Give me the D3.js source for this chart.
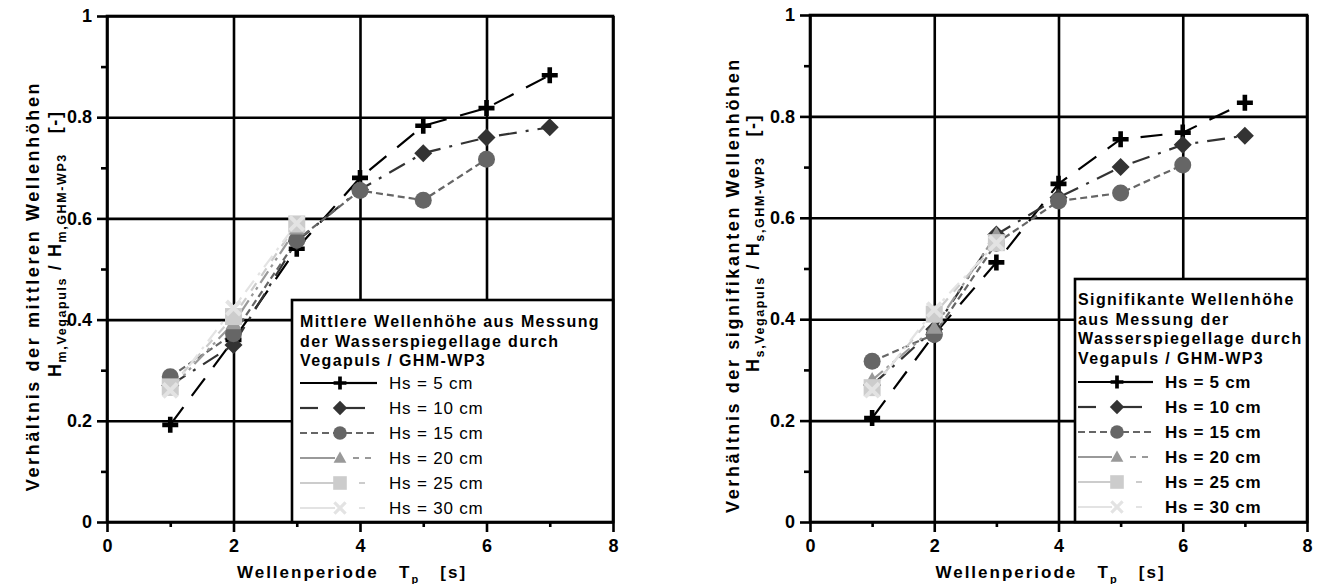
<!DOCTYPE html>
<html><head><meta charset="utf-8">
<script src="https://cdn.jsdelivr.net/npm/d3@7"></script>
<style>
body{margin:0;background:#fff;}
svg{display:block;font-family:"Liberation Sans",Arial,sans-serif;}
text{white-space:pre;}
</style></head><body>
<svg id="c" width="1334" height="584"></svg>
<script>
// ---------- data ----------
const periods = [1, 2, 3, 4, 5, 6, 7];
const seriesNames = ["Hs = 5 cm", "Hs = 10 cm", "Hs = 15 cm", "Hs = 20 cm", "Hs = 25 cm", "Hs = 30 cm"];
const xTicks = [0, 2, 4, 6, 8];
const xMinorTicks = [1, 3, 5, 7];
const yTicks = [0, 0.2, 0.4, 0.6, 0.8, 1];
const yTickLabels = ["0", "0.2", "0.4", "0.6", "0.8", "1"];
const yMinorTicks = [0.1, 0.3, 0.5, 0.7, 0.9];

// mittlere Wellenhöhe (left)
const mean5  = [0.192, 0.36, 0.54, 0.68, 0.783, 0.818, 0.883];
const mean10 = [0.27, 0.35, 0.555, 0.657, 0.729, 0.76, 0.78];
const mean15 = [0.287, 0.372, 0.557, 0.655, 0.636, 0.717];
const mean20 = [0.262, 0.393, 0.58];
const mean25 = [0.267, 0.406, 0.589];
const mean30 = [0.26, 0.423, 0.59];

// signifikante Wellenhöhe (right)
const sig5  = [0.205, 0.37, 0.512, 0.667, 0.755, 0.768, 0.827];
const sig10 = [0.27, 0.38, 0.567, 0.64, 0.70, 0.744, 0.762];
const sig15 = [0.317, 0.37, 0.55, 0.633, 0.649, 0.704];
const sig20 = [0.28, 0.383, 0.567];
const sig25 = [0.265, 0.41, 0.551];
const sig30 = [0.26, 0.419, 0.55];

const legendTitleLeft = ["Mittlere Wellenhöhe aus Messung", "der Wasserspiegellage durch", "Vegapuls / GHM-WP3"];
const legendTitleRight = ["Signifikante Wellenhöhe", "aus Messung der", "Wasserspiegellage durch", "Vegapuls / GHM-WP3"];

// ---------- styles ----------
const colors = ["#000000", "#333333", "#666666", "#999999", "#cccccc", "#e3e3e3"];
const markerTypes = ["plus", "diamond", "circle", "triangle", "square", "cross"];
const dashes = ["22,14", "18,9,3,9", "7,4", "14,5,3,5,3,5", "9,9", "14,7,3,7"];
const legLeftDash = [null, "18,100", "7,4", null, null, null];
const legRightDash = [null, "20,100", "7,4", "0,8,6,6,6,6,6", "0,14,6,100", "0,14,6,100"];

const FONT = '"Liberation Sans",Arial,sans-serif';
const svg = d3.select("#c");

function marker(g, type, cx, cy, color, s) {
  s = s || 1;
  if (type === "plus") {
    const a = 8 * s, t = 2.3 * s;
    g.append("path").attr("d", `M${cx-a},${cy-t}H${cx-t}V${cy-a}H${cx+t}V${cy-t}H${cx+a}V${cy+t}H${cx+t}V${cy+a}H${cx-t}V${cy+t}H${cx-a}Z`).attr("fill", color);
  } else if (type === "diamond") {
    const r = 9 * s;
    g.append("path").attr("d", `M${cx},${cy-r}L${cx+r},${cy}L${cx},${cy+r}L${cx-r},${cy}Z`).attr("fill", color);
  } else if (type === "circle") {
    g.append("circle").attr("cx", cx).attr("cy", cy).attr("r", 8.5 * s).attr("fill", color);
  } else if (type === "triangle") {
    const r = 8 * s;
    g.append("path").attr("d", `M${cx},${cy-r}L${cx+r},${cy+r*0.75}L${cx-r},${cy+r*0.75}Z`).attr("fill", color);
  } else if (type === "square") {
    const r = 8.5 * s;
    g.append("rect").attr("x", cx - r).attr("y", cy - r).attr("width", 2 * r).attr("height", 2 * r).attr("fill", color);
  } else if (type === "cross") {
    const r = 7 * s;
    g.append("path").attr("d", `M${cx-r},${cy-r}L${cx+r},${cy+r}M${cx-r},${cy+r}L${cx+r},${cy-r}`).attr("stroke", color).attr("stroke-width", 4 * s);
  }
}

function panel(o) {
  const x = d3.scaleLinear().domain([0, 8]).range([o.x0, o.x1]);
  const y = d3.scaleLinear().domain([0, 1]).range([o.y0, o.y1]);
  const g = svg.append("g");

  // grid
  const grid = g.append("g").attr("transform", `translate(0,${o.y0})`)
    .call(d3.axisBottom(x).tickValues(xTicks).tickSize(-(o.y0 - o.y1)).tickFormat(""));
  const gridY = g.append("g").attr("transform", `translate(${o.x0},0)`)
    .call(d3.axisLeft(y).tickValues(yTicks).tickSize(-(o.x1 - o.x0)).tickFormat(""));
  [grid, gridY].forEach(a => { a.select(".domain").remove(); a.selectAll("line").attr("stroke", "#000").attr("stroke-width", 2.6); });

  // series
  const all = o.series;
  all.forEach((vals, i) => {
    const pts = vals.map((v, k) => [periods[k], v]);
    g.append("path").datum(pts)
      .attr("d", d3.line().x(d => x(d[0])).y(d => y(d[1])))
      .attr("fill", "none").attr("stroke", colors[i]).attr("stroke-width", 2.2)
      .attr("stroke-dasharray", dashes[i]);
  });
  all.forEach((vals, i) => {
    vals.forEach((v, k) => marker(g, markerTypes[i], x(periods[k]), y(v), colors[i], 1));
  });

  // border
  g.append("rect").attr("x", o.x0).attr("y", o.y1).attr("width", o.x1 - o.x0).attr("height", o.y0 - o.y1)
    .attr("fill", "none").attr("stroke", "#000").attr("stroke-width", 2.6);

  // axes ticks + labels
  const ax = g.append("g").attr("transform", `translate(0,${o.y0})`)
    .call(d3.axisBottom(x).tickValues(xTicks).tickSize(10).tickPadding(7).tickFormat(d3.format("d")));
  const axm = g.append("g").attr("transform", `translate(0,${o.y0})`)
    .call(d3.axisBottom(x).tickValues(xMinorTicks).tickSize(5).tickFormat(""));
  const ay = g.append("g").attr("transform", `translate(${o.x0},0)`)
    .call(d3.axisLeft(y).tickValues(yTicks).tickSize(10).tickPadding(5).tickFormat((d, i) => yTickLabels[i]));
  const aym = g.append("g").attr("transform", `translate(${o.x0},0)`)
    .call(d3.axisLeft(y).tickValues(yMinorTicks).tickSize(6).tickFormat(""));
  [ax, axm, ay, aym].forEach(a => {
    a.attr("font-size", 18).attr("font-family", FONT);
    a.select(".domain").remove();
    a.selectAll("line").attr("stroke", "#000").attr("stroke-width", 2.6);
    a.selectAll("text").attr("fill", "#000").attr("font-size", 18).attr("font-weight", "bold")
      .attr("font-family", FONT);
  });

  // x title
  const xt = g.append("text").attr("x", (o.x0 + o.x1) / 2 - 8).attr("y", 578).attr("text-anchor", "middle")
    .attr("font-size", 17).attr("font-weight", "bold").attr("letter-spacing", 2);
  xt.append("tspan").text("Wellenperiode   T");
  xt.append("tspan").attr("font-size", 11).attr("dy", 5).text("p");
  xt.append("tspan").attr("dy", -5).text("   [s]");

  // y title
  g.append("text").attr("transform", `translate(${o.yt1x},${o.yt1y}) rotate(-90)`)
    .attr("text-anchor", "middle").attr("font-size", 18).attr("font-weight", "bold").attr("letter-spacing", 2.6)
    .text(o.yTitle1);
  const y2 = g.append("text").attr("transform", `translate(${o.yt2x},${o.yt2y}) rotate(-90)`)
    .attr("text-anchor", "start").attr("font-size", 18).attr("font-weight", "bold").attr("letter-spacing", 1.6);
  y2.append("tspan").text("H");
  y2.append("tspan").attr("font-size", 12.5).attr("dy", 5).text(o.sub + ",Vegapuls");
  y2.append("tspan").attr("dy", -5).text(" / H");
  y2.append("tspan").attr("font-size", 12.5).attr("dy", 5).text(o.sub + ",GHM-WP3");
  y2.append("tspan").attr("dy", -5).text("   [-]");

  // legend
  const L = o.leg;
  const lg = g.append("g");
  lg.append("rect").attr("x", L.x).attr("y", L.y).attr("width", o.x1 - L.x).attr("height", o.y0 - L.y)
    .attr("fill", "#fff").attr("stroke", "#000").attr("stroke-width", 2.6);
  o.legTitle.forEach((t, i) => {
    lg.append("text").attr("x", L.tx).attr("y", L.tb + i * 19.5).attr("font-size", 16).attr("font-weight", "bold")
      .attr("letter-spacing", 1.4).text(t);
  });
  seriesNames.forEach((n, i) => {
    const cy = L.e0 + i * 25;
    lg.append("line").attr("x1", L.l0).attr("x2", L.m - 5).attr("y1", cy).attr("y2", cy)
      .attr("stroke", colors[i]).attr("stroke-width", 2.2).attr("stroke-dasharray", legLeftDash[i]);
    lg.append("line").attr("x1", L.m + 5).attr("x2", L.l1).attr("y1", cy).attr("y2", cy)
      .attr("stroke", colors[i]).attr("stroke-width", 2.2).attr("stroke-dasharray", legRightDash[i]);
    marker(lg, markerTypes[i], L.m, cy, colors[i], 0.8);
    lg.append("text").attr("x", L.t).attr("y", cy + 6).attr("font-size", 17).attr("font-weight", L.bold ? "bold" : "normal")
      .attr("letter-spacing", L.bold ? 0.7 : 0.8).text(n);
  });
}

panel({
  x0: 107, x1: 613, y0: 522, y1: 16,
  series: [mean5, mean10, mean15, mean20, mean25, mean30],
  yTitle1: "Verhältnis der mittleren Wellenhöhen", sub: "m",
  yt1x: 39, yt1y: 286, yt2x: 61, yt2y: 377,
  legTitle: legendTitleLeft,
  leg: { x: 292, y: 300, tx: 300, tb: 327, e0: 383, l0: 300, l1: 377, m: 340, t: 389, bold: false }
});
panel({
  x0: 810, x1: 1307, y0: 522, y1: 15,
  series: [sig5, sig10, sig15, sig20, sig25, sig30],
  yTitle1: "Verhältnis der signifikanten Wellenhöhen", sub: "s",
  yt1x: 739, yt1y: 285, yt2x: 759, yt2y: 372,
  legTitle: legendTitleRight,
  leg: { x: 1075, y: 279, tx: 1078, tb: 305, e0: 382, l0: 1078, l1: 1153, m: 1117, t: 1165, bold: true }
});
</script>
</body></html>
